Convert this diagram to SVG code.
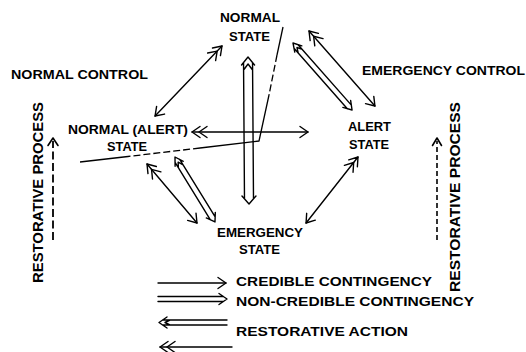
<svg xmlns="http://www.w3.org/2000/svg" width="526" height="352" viewBox="0 0 526 352">
  <style>
    text { font-family: "Liberation Sans", Arial, sans-serif; font-weight: bold; font-size: 12.5px; fill: #000; }
    .vt { font-size: 14px; }
    .ln { fill: none; stroke: #000; stroke-width: 1.4; stroke-linecap: round; stroke-linejoin: round; }
    .bd { fill: none; stroke: #000; stroke-width: 1.3; stroke-linejoin: round; }
    .brk { stroke-dasharray: 7 3; }
  </style>
  <defs>
    <!-- credible contingency head, tip at origin, pointing +x -->
    <path id="hc" class="ln" d="M-8,-5.5 L0,0 L-8,5.5"/>
    <!-- restorative action double chevron, tip at origin, pointing -x -->
    <path id="hr" class="ln" d="M8,-5.5 L0,0 L8,5.5 M15,-5.5 L7,0 L15,5.5"/>
  </defs>

  <rect width="526" height="352" fill="#fff"/>

  <!-- states -->
  <g id="normal-state">
    <text x="220" y="22" textLength="60" lengthAdjust="spacingAndGlyphs">NORMAL</text>
    <text x="229" y="41" textLength="41" lengthAdjust="spacingAndGlyphs">STATE</text>
  </g>
  <g id="normal-alert-state">
    <text x="68" y="134" textLength="120" lengthAdjust="spacingAndGlyphs">NORMAL (ALERT)</text>
    <text x="107" y="151" textLength="40" lengthAdjust="spacingAndGlyphs">STATE</text>
  </g>
  <g id="alert-state">
    <text x="348" y="131" textLength="43" lengthAdjust="spacingAndGlyphs">ALERT</text>
    <text x="349" y="149" textLength="40" lengthAdjust="spacingAndGlyphs">STATE</text>
  </g>
  <g id="emergency-state">
    <text x="217" y="237" textLength="86" lengthAdjust="spacingAndGlyphs">EMERGENCY</text>
    <text x="239" y="254" textLength="41" lengthAdjust="spacingAndGlyphs">STATE</text>
  </g>

  <!-- region labels -->
  <g id="normal-control">
    <text x="11" y="79" textLength="137" lengthAdjust="spacingAndGlyphs">NORMAL CONTROL</text>
  </g>
  <g id="emergency-control">
    <text x="362" y="75" textLength="163" lengthAdjust="spacingAndGlyphs">EMERGENCY CONTROL</text>
  </g>
  <g id="restorative-process-left">
    <text class="vt" transform="translate(43,283) rotate(-90)" textLength="181" lengthAdjust="spacingAndGlyphs">RESTORATIVE PROCESS</text>
    <path class="ln" d="M53,240 V141" style="stroke-width:1.8;stroke-dasharray:8 3.5;stroke-linecap:butt"/>
    <path class="ln" d="M48,145.5 L53,138 L58,145.5" style="stroke-width:1.6"/>
  </g>
  <g id="restorative-process-right">
    <text class="vt" transform="translate(460,292) rotate(-90)" textLength="190" lengthAdjust="spacingAndGlyphs">RESTORATIVE PROCESS</text>
    <path class="ln" d="M437,240 V141" style="stroke-width:1.6;stroke-dasharray:5 3;stroke-linecap:butt"/>
    <path class="ln" d="M432.5,145.5 L437,138 L441.5,145.5" style="stroke-width:1.6"/>
  </g>

  <!-- boundary line -->
  <g id="boundary">
    <path class="bd" d="M283,27 L277,55"/>
    <path class="bd brk" d="M277,55 L269,95"/>
    <path class="bd" d="M269,95 L259,141 L200,148"/>
    <path class="bd brk" d="M200,148 L128,156.5"/>
    <path class="bd" d="M128,156.5 L80,162"/>
  </g>

  <!-- transitions -->
  <g id="connectors">
    <!-- normal <-> normal (alert) -->
    <g transform="translate(222,46) rotate(133.7)">
      <path class="ln" d="M0,0 H96.9"/>
      <use href="#hr"/>
      <use href="#hc" x="96.9"/>
    </g>
    <!-- normal (alert) <-> alert -->
    <g transform="translate(192,132)">
      <path class="ln" d="M0,0 H116"/>
      <use href="#hr"/>
      <use href="#hc" x="116"/>
    </g>
    <!-- normal <-> alert, single -->
    <g transform="translate(309,31) rotate(48.7)">
      <path class="ln" d="M0,0 H99.9"/>
      <use href="#hr"/>
      <use href="#hc" x="99.9"/>
    </g>
    <!-- normal <-> alert, hollow -->
    <g transform="translate(293,43) rotate(48.6)">
      <path class="ln" d="M8,-4.7 L0,0 L8,4.7 M11,-2.7 L6,0 L11,2.7 M4.6,-2.7 H85.2 M4.6,2.7 H85.2 M81.3,-5.2 L89.3,0 L81.3,5.2"/>
    </g>
    <!-- normal <-> emergency, hollow -->
    <g transform="translate(248,57) rotate(89.6)">
      <path class="ln" d="M8,-6.5 L0,0 L8,6.5 M13,-4.5 L7,0 L13,4.5 M5.5,-4.5 H141.9 M5.5,4.5 H141.9 M139,-7 L147,0 L139,7"/>
    </g>
    <!-- alert <-> emergency -->
    <g transform="translate(358,157) rotate(128.2)">
      <path class="ln" d="M0,0 H84"/>
      <use href="#hr"/>
      <use href="#hc" x="84"/>
    </g>
    <!-- normal (alert) <-> emergency, single -->
    <g transform="translate(147,164) rotate(49.7)">
      <path class="ln" d="M0,0 H77.3"/>
      <use href="#hr"/>
      <use href="#hc" x="77.3"/>
    </g>
    <!-- normal (alert) <-> emergency, hollow -->
    <g transform="translate(175,157) rotate(58.4)">
      <path class="ln" d="M8,-4.8 L0,0 L8,4.8 M11,-2.8 L6,0 L11,2.8 M4.7,-2.8 H72.1 M4.7,2.8 H72.1 M68.3,-5.3 L76.3,0 L68.3,5.3"/>
    </g>
  </g>

  <!-- key -->
  <g id="legend">
    <path class="ln" d="M158,283 H226"/>
    <use href="#hc" x="226" y="283"/>
    <text x="236" y="286" textLength="196" lengthAdjust="spacingAndGlyphs">CREDIBLE CONTINGENCY</text>

    <path class="ln" d="M158,296.5 H223.4 M158,301.5 H223.4 M219,293.5 L227,299 L219,304.5"/>
    <text x="236" y="306" textLength="238" lengthAdjust="spacingAndGlyphs">NON-CREDIBLE CONTINGENCY</text>

    <path class="ln" d="M167,317 L159,322.5 L167,328 M170,320 L165,322.5 L170,325 M162.6,320 H227 M162.6,325 H227"/>
    <path class="ln" d="M160,347 H232"/>
    <use href="#hr" x="160" y="347"/>
    <text x="236" y="336" textLength="172" lengthAdjust="spacingAndGlyphs">RESTORATIVE ACTION</text>
  </g>
</svg>
